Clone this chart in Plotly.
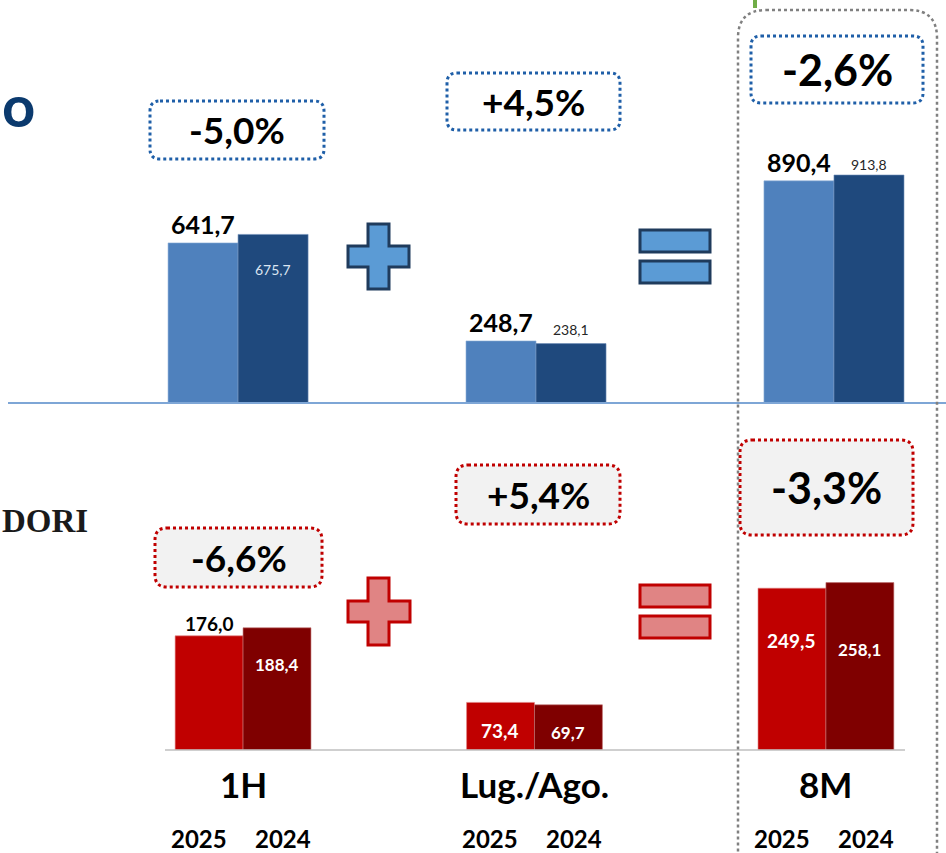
import plotly.graph_objects as go

W, H = 946, 853

categories = ["1H", "Lug./Ago.", "8M"]
years = ["2025", "2024"]
top_2025 = [641.7, 248.7, 890.4]
top_2024 = [675.7, 238.1, 913.8]
bot_2025 = [176.0, 73.4, 249.5]
bot_2024 = [188.4, 69.7, 258.1]
top_changes = ["-5,0%", "+4,5%", "-2,6%"]
bot_changes = ["-6,6%", "+5,4%", "-3,3%"]

FONT = "Lato"


def X(px):
    return px / W


def Y(py):
    return 1 - py / H


def fmt(v):
    return f"{v:.1f}".replace(".", ",")


def rrect(x0, y0, x1, y1, r):
    pts = [
        f"M {X(x0 + r)},{Y(y0)}",
        f"L {X(x1 - r)},{Y(y0)}",
        f"Q {X(x1)},{Y(y0)} {X(x1)},{Y(y0 + r)}",
        f"L {X(x1)},{Y(y1 - r)}",
        f"Q {X(x1)},{Y(y1)} {X(x1 - r)},{Y(y1)}",
        f"L {X(x0 + r)},{Y(y1)}",
        f"Q {X(x0)},{Y(y1)} {X(x0)},{Y(y1 - r)}",
        f"L {X(x0)},{Y(y0 + r)}",
        f"Q {X(x0)},{Y(y0)} {X(x0 + r)},{Y(y0)}",
        "Z",
    ]
    return " ".join(pts)


def cross(x0, y0, x1, y1, ax0, ax1, ay0, ay1):
    p = [(ax0, y0), (ax1, y0), (ax1, ay0), (x1, ay0), (x1, ay1), (ax1, ay1),
         (ax1, y1), (ax0, y1), (ax0, ay1), (x0, ay1), (x0, ay0), (ax0, ay0)]
    return "M " + " L ".join(f"{X(a)},{Y(b)}" for a, b in p) + " Z"


fig = go.Figure()

TW = 0.235
BW = 0.233
c_top25, c_top24 = "#4f81bd", "#1f497d"
c_bot25, c_bot24 = "#c00000", "#7f0000"

fig.add_trace(go.Bar(x=categories, y=top_2025, width=TW, offset=-TW, marker=dict(color=c_top25, line=dict(width=0.6, color="#8fb0d8")),
                     xaxis="x", yaxis="y", name=years[0], hoverinfo="skip"))
fig.add_trace(go.Bar(x=categories, y=top_2024, width=TW, offset=0, marker=dict(color=c_top24, line=dict(width=0.6, color="#6f8fb8")),
                     xaxis="x", yaxis="y", name=years[1], hoverinfo="skip"))
fig.add_trace(go.Bar(x=categories, y=bot_2025, width=BW, offset=-BW, marker=dict(color=c_bot25, line=dict(width=0.6, color="#e08080")),
                     xaxis="x2", yaxis="y2", name=years[0], hoverinfo="skip"))
fig.add_trace(go.Bar(x=categories, y=bot_2024, width=BW, offset=0, marker=dict(color=c_bot24, line=dict(width=0.6, color="#c07070")),
                     xaxis="x2", yaxis="y2", name=years[1], hoverinfo="skip"))

ann = []
shapes = []

top25_style = [(19, "#000000", 25, True), (19, "#000000", 25, True), (19, "#000000", 25, True)]
top24_style = [(-35, "#dbe5f1", 14, False), (14, "#262626", 14, False), (11, "#262626", 14, False)]
for i, c in enumerate(categories):
    ys, col, sz, b = top25_style[i]
    t = fmt(top_2025[i])
    ann.append(dict(x=c, y=top_2025[i], xref="x", yref="y", xshift=-35, yshift=ys,
                    xanchor="center", yanchor="middle",
                    text=f"<b>{t}</b>" if b else t, showarrow=False,
                    font=dict(family=FONT, size=sz, color=col)))
    ys, col, sz, b = top24_style[i]
    t = fmt(top_2024[i])
    ann.append(dict(x=c, y=top_2024[i], xref="x", yref="y", xshift=35, yshift=ys,
                    xanchor="center", yanchor="middle",
                    text=f"<b>{t}</b>" if b else t, showarrow=False,
                    font=dict(family=FONT, size=sz, color=col)))

bot25_style = [(12, "#000000", 19), (-28, "#ffffff", 19), (-52, "#ffffff", 19)]
bot24_style = [(-37, "#ffffff", 17), (-28, "#ffffff", 17), (-67, "#ffffff", 17)]
for i, c in enumerate(categories):
    ys, col, sz = bot25_style[i]
    ann.append(dict(x=c, y=bot_2025[i], xref="x2", yref="y2", xshift=-34, yshift=ys,
                    xanchor="center", yanchor="middle",
                    text=f"<b>{fmt(bot_2025[i])}</b>", showarrow=False,
                    font=dict(family=FONT, size=sz, color=col)))
    ys, col, sz = bot24_style[i]
    ann.append(dict(x=c, y=bot_2024[i], xref="x2", yref="y2", xshift=34, yshift=ys,
                    xanchor="center", yanchor="middle",
                    text=f"<b>{fmt(bot_2024[i])}</b>", showarrow=False,
                    font=dict(family=FONT, size=sz, color=col)))

for i, c in enumerate(categories):
    ann.append(dict(x=c, y=Y(784), xref="x2", yref="paper", text=f"<b>{c}</b>", showarrow=False,
                    font=dict(family=FONT, size=35, color="#000000"), xanchor="center", yanchor="middle"))
    ann.append(dict(x=c, y=Y(838), xref="x2", yref="paper", xshift=-44, text=f"<b>{years[0]}</b>", showarrow=False,
                    font=dict(family=FONT, size=24, color="#000000"), xanchor="center", yanchor="middle"))
    ann.append(dict(x=c, y=Y(838), xref="x2", yref="paper", xshift=40, text=f"<b>{years[1]}</b>", showarrow=False,
                    font=dict(family=FONT, size=24, color="#000000"), xanchor="center", yanchor="middle"))

top_boxes = [(150, 101, 324, 159, 37), (447, 73, 620, 130, 37), (751, 36, 923, 103, 43)]
bot_boxes = [(155, 528, 322, 587, 37), (456, 465, 620, 524, 37), (740, 440, 913, 535, 43)]
for txt, (x0, y0, x1, y1, fs) in zip(top_changes, top_boxes):
    shapes.append(dict(type="path", path=rrect(x0, y0, x1, y1, 10), xref="paper", yref="paper",
                       line=dict(color="#1f5fa8", width=3, dash="dot"), fillcolor="rgba(255,255,255,1)", layer="above"))
    ann.append(dict(x=X((x0 + x1) / 2), y=Y((y0 + y1) / 2), xref="paper", yref="paper",
                    xanchor="center", yanchor="middle",
                    text=f"<b>{txt}</b>", showarrow=False, font=dict(family=FONT, size=fs, color="#000000")))
for txt, (x0, y0, x1, y1, fs) in zip(bot_changes, bot_boxes):
    shapes.append(dict(type="path", path=rrect(x0, y0, x1, y1, 12), xref="paper", yref="paper",
                       line=dict(color="#c00000", width=3, dash="dot"), fillcolor="#f2f2f2", layer="above"))
    ann.append(dict(x=X((x0 + x1) / 2), y=Y((y0 + y1) / 2), xref="paper", yref="paper",
                    xanchor="center", yanchor="middle",
                    text=f"<b>{txt}</b>", showarrow=False, font=dict(family=FONT, size=fs, color="#000000")))

shapes.append(dict(type="path", path=cross(348, 224, 409, 289, 368, 389, 246, 267), xref="paper", yref="paper",
                   line=dict(color="#1f3b5c", width=3), fillcolor="#5b9bd5"))
shapes.append(dict(type="rect", x0=X(640), x1=X(710), y0=Y(230), y1=Y(252), xref="paper", yref="paper",
                   line=dict(color="#1f3b5c", width=3), fillcolor="#5b9bd5"))
shapes.append(dict(type="rect", x0=X(640), x1=X(710), y0=Y(261), y1=Y(283), xref="paper", yref="paper",
                   line=dict(color="#1f3b5c", width=3), fillcolor="#5b9bd5"))
shapes.append(dict(type="path", path=cross(348, 578, 410, 645, 368, 389, 601, 622), xref="paper", yref="paper",
                   line=dict(color="#c00000", width=3), fillcolor="#e08484"))
shapes.append(dict(type="rect", x0=X(640), x1=X(710), y0=Y(585), y1=Y(607), xref="paper", yref="paper",
                   line=dict(color="#c00000", width=3), fillcolor="#e08484"))
shapes.append(dict(type="rect", x0=X(640), x1=X(710), y0=Y(616), y1=Y(638), xref="paper", yref="paper",
                   line=dict(color="#c00000", width=3), fillcolor="#e08484"))

shapes.append(dict(type="line", x0=X(8), x1=X(946), y0=Y(403), y1=Y(403), xref="paper", yref="paper",
                   line=dict(color="#7ea6d6", width=2)))
shapes.append(dict(type="line", x0=X(165), x1=X(905), y0=Y(750), y1=Y(750), xref="paper", yref="paper",
                   line=dict(color="#bfbfbf", width=1.5)))

shapes.append(dict(type="path", path=rrect(738, 10, 937, 880, 28), xref="paper", yref="paper",
                   line=dict(color="#808080", width=2.5, dash="dot")))
shapes.append(dict(type="line", x0=X(755), x1=X(755), y0=Y(0), y1=Y(8), xref="paper", yref="paper",
                   line=dict(color="#70ad47", width=4)))

ann.append(dict(x=X(0), y=Y(105), xref="paper", yref="paper", xanchor="left", yanchor="middle",
                text="<b>o</b>", showarrow=False, font=dict(family=FONT, size=58, color="#0b3a6e")))
ann.append(dict(x=X(0), y=Y(521), xref="paper", yref="paper", xanchor="left", yanchor="middle",
                text="<b>DORI</b>", showarrow=False, font=dict(family="Liberation Serif", size=33, color="#1a1a1a")))

fig.update_layout(
    width=W, height=H,
    margin=dict(l=0, r=0, t=0, b=0),
    paper_bgcolor="white", plot_bgcolor="rgba(0,0,0,0)",
    showlegend=False, barmode="overlay",
    xaxis=dict(domain=[0, 1], range=[-0.799, 2.376], visible=False, anchor="y",
               type="category", categoryorder="array", categoryarray=categories),
    yaxis=dict(domain=[Y(403), 1], range=[0, 403 / 0.2495], visible=False, anchor="x"),
    xaxis2=dict(domain=[0, 1], range=[-0.834, 2.412], visible=False, anchor="y2",
                type="category", categoryorder="array", categoryarray=categories),
    yaxis2=dict(domain=[Y(750), Y(400)], range=[0, 350 / 0.6485], visible=False, anchor="x2"),
    annotations=ann, shapes=shapes,
)

fig.write_html("out.html", config={"displayModeBar": False},
               post_script="document.body.style.margin='0';document.body.style.overflow='hidden';")
